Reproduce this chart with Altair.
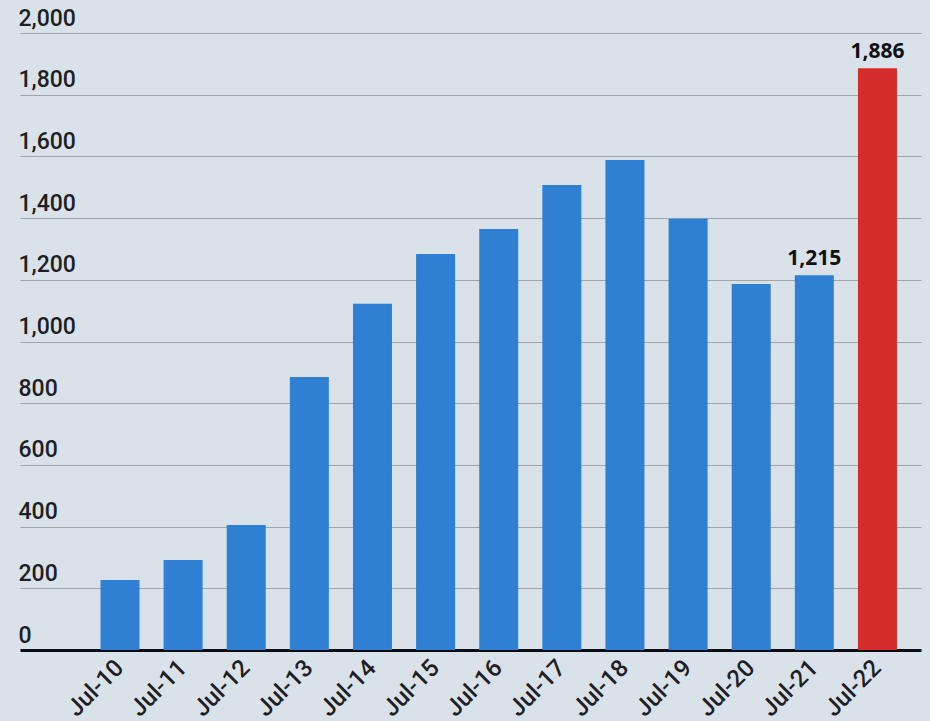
import altair as alt
import pandas as pd

months = ["Jul-10", "Jul-11", "Jul-12", "Jul-13", "Jul-14", "Jul-15", "Jul-16",
          "Jul-17", "Jul-18", "Jul-19", "Jul-20", "Jul-21", "Jul-22"]
values = [227, 292, 405, 885, 1122, 1284, 1365, 1507, 1588, 1398, 1186, 1215, 1886]
bar_colors = ["#2f7fd2"] * 12 + ["#d42b2b"]
labels = [""] * 11 + ["1,215", "1,886"]

df = pd.DataFrame({"month": months, "value": values, "color": bar_colors, "label": labels})

x_enc = alt.X("month:N", sort=months,
              scale=alt.Scale(paddingInner=0.382, paddingOuter=0.828, align=0.77),
              axis=alt.Axis(title=None, labelAngle=-45, labelAlign="right",
                            labelBaseline="middle", labelFont="Roboto", labelFontSize=24,
                            labelFontWeight=500, labelColor="#1e1e24", ticks=False,
                            labelPadding=14, domainColor="#0b0b14", domainWidth=3,
                            grid=False))
y_enc = alt.Y("value:Q", scale=alt.Scale(domain=[0, 2000], nice=False),
              axis=alt.Axis(title=None, values=list(range(0, 2001, 200)), format=",d",
                            orient="left", labelAlign="left", labelPadding=2, tickSize=0,
                            ticks=False, labelOffset=-8, labelBaseline="alphabetic",
                            labelFlush=False, labelFont="Roboto", labelFontSize=23,
                            labelFontWeight=500, labelColor="#1e1e24", domain=False,
                            grid=True, gridColor="#9ea4ab", gridWidth=1.2))

base = alt.Chart(df)
bars = base.mark_bar().encode(x=x_enc, y=y_enc, color=alt.Color("color:N", scale=None))
text = base.transform_filter("datum.label != ''").mark_text(
    baseline="alphabetic", dy=-10, font="Open Sans", fontWeight="bold", fontSize=21,
    color="#111111").encode(x=alt.X("month:N", sort=months), y="value:Q", text="label:N")

chart = (bars + text).properties(
    width=901, height=617,
    autosize=alt.AutoSizeParams(type="none"),
    padding={"left": 20, "top": 33, "right": 9, "bottom": 71},
    background="#dae2e9",
).configure_view(stroke=None)

chart.save("out.html", embed_options={"renderer": "svg", "actions": False})
